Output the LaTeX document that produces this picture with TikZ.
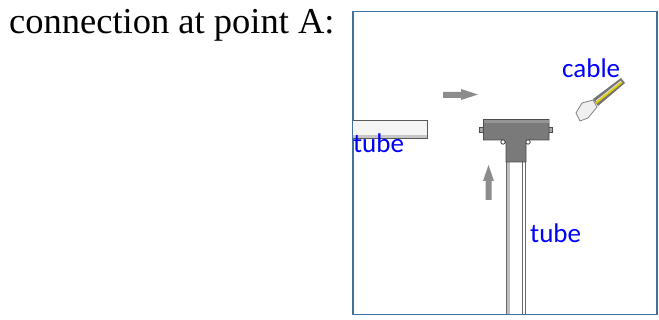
\documentclass[tikz,border=0pt]{standalone}
\usepackage{fontspec}
\setmainfont{Liberation Serif}
\newfontfamily\lab{Carlito}
\tikzset{
  x=1pt,y=-1pt,
  frame/.style={draw=frameblue,line width=1.5pt},
  labeltext/.style={text=labelblue,font=\lab\fontsize{27}{30}\selectfont,inner sep=0pt,anchor=base west},
  tubeedge/.style={draw=black!65,line width=1pt},
  arrowbody/.style={fill=arrowgray,draw=none},
  nub/.style={draw=black!70,fill=black!35,line width=.7pt},
}
\definecolor{frameblue}{HTML}{41719C}
\definecolor{labelblue}{HTML}{0000FF}
\definecolor{arrowgray}{HTML}{8C8C8C}
\definecolor{teegray}{HTML}{7A7A7A}
\begin{document}
\begin{tikzpicture}
\useasboundingbox (0,0) rectangle (659,320);
\node[font=\fontsize{36.5}{40}\selectfont,inner sep=0pt,anchor=base west] (title) at (9,34) {connection at point A:};
% frame
\node[frame,minimum width=304pt,minimum height=303pt,inner sep=0pt,anchor=north west] (box) at (352,11) {};
% left tube
\fill[black!4] (353,121) rectangle (427,139);
\fill[black!22] (353,135) rectangle (427,138);
\draw[tubeedge] (353,121) -- (427,121) -- (427,139) -- (353,139);
% vertical tube
\fill[black!25] (506,160) rectangle (510,314);
\draw[black!60,line width=.8pt] (506.5,160) -- (506.5,314);
\draw[black!60,line width=.8pt] (522,160) -- (522,314);
\draw[black!60,line width=.8pt] (525,160) -- (525,314);
% tee
\draw[nub] (479,127) rectangle (484,132);
\draw[nub] (548,127) rectangle (552,132);
\fill[teegray,draw=black!70,line width=.8pt] (483.5,119.5) -- (549,119.5) -- (549,140) -- (529,140) -- (526,143) -- (526,162) -- (506,162) -- (506,143) -- (503,140) -- (483.5,140) -- cycle;
\fill[black!42] (484,120) rectangle (548.5,123);
\draw[black!75,fill=white,line width=.8pt] (503,142) circle (2.2);
\draw[black!75,fill=white,line width=.8pt] (528,142) circle (2.2);
% arrows
\fill[arrowbody] (443,92) -- (461,92) -- (461,89) -- (478,94.5) -- (461,100) -- (461,98) -- (443,98) -- cycle;
\fill[arrowbody] (485.5,200) -- (485.5,181) -- (483,181) -- (488.5,165) -- (494,181) -- (491.5,181) -- (491.5,200) -- cycle;
% cable
\fill[black!55] (593,99) -- (621,78) -- (625,83) -- (598,106) -- cycle;
\draw[yellow!70!olive,line width=2pt] (596,103) -- (622,82);
\draw[black!8,line width=.8pt] (596,101) -- (621,81);
\draw[black!50,fill=black!6,line width=.8pt] (576,113) -- (582,103) -- (593,100) -- (597,107) -- (588,118) -- (580,121) -- cycle;
% labels
\node[labeltext] (t1) at (353,153) {tube};
\node[labeltext] (t2) at (530,243) {tube};
\node[labeltext] (c) at (562,78) {cable};
\end{tikzpicture}
\end{document}
